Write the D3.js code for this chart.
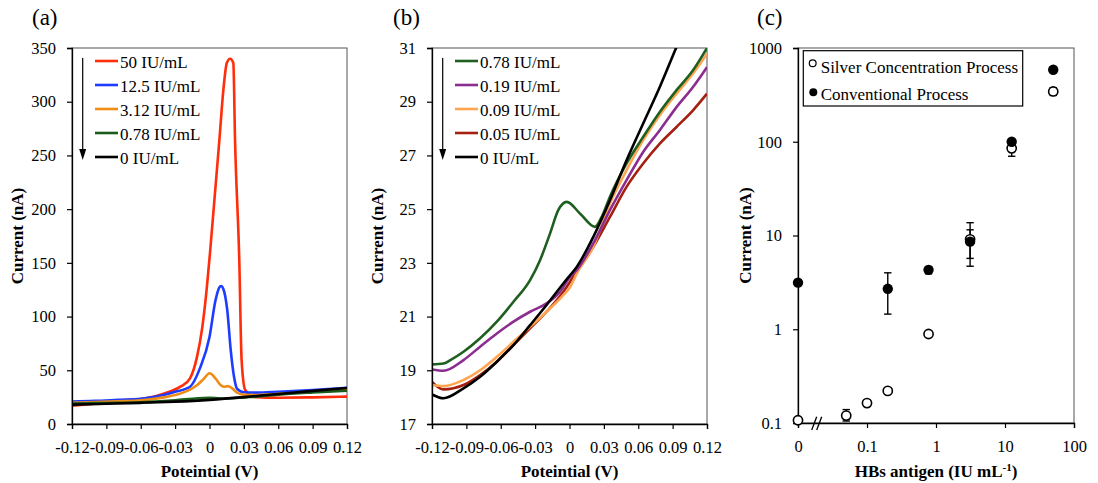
<!DOCTYPE html>
<html><head><meta charset="utf-8">
<script src="https://cdn.jsdelivr.net/npm/d3@7"></script>
<style>
body{margin:0;background:#fff;}
svg{display:block;}
svg text{font-family:"Liberation Serif","Times New Roman",serif;}
</style></head>
<body><svg id="c" width="1098" height="483" font-family="Liberation Serif, Times New Roman, serif"></svg>
<script>
// ---------- DATA ----------
// Panel (a): potential (V), current (nA)
const xTicksA = [-0.12,-0.09,-0.06,-0.03,0,0.03,0.06,0.09,0.12];
const xTickLabels = ["-0.12","-0.09","-0.06","-0.03","0","0.03","0.06","0.09","0.12"];
const yTicksA = [0,50,100,150,200,250,300,350];
const a50 = [[-0.12,17],[-0.10,19],[-0.08,21],[-0.06,23.2],[-0.045,26.5],[-0.035,30],[-0.025,35],[-0.017,42.5],[-0.011,62],[-0.0063,90],[-0.0025,125],[0.0005,160],[0.004,205],[0.0086,264],[0.0121,311],[0.0151,336],[0.018,340],[0.0208,336],[0.0223,264],[0.026,152],[0.028,60],[0.031,32],[0.036,26.5],[0.041,25],[0.06,24.5],[0.09,24.8],[0.12,25.5]];
const a125 = [[-0.12,21],[-0.10,21.5],[-0.08,22.5],[-0.06,23.5],[-0.04,27],[-0.03,30],[-0.017,34.7],[-0.0083,52],[0,81],[0.0052,115],[0.0085,127],[0.0101,128.4],[0.012,126],[0.0155,106],[0.0185,69],[0.0214,44],[0.024,33],[0.03,29.5],[0.04,29.2],[0.06,30],[0.09,31.7],[0.12,33.8]];
const a312 = [[-0.12,19.8],[-0.10,20.4],[-0.08,21.1],[-0.06,22],[-0.04,24.8],[-0.025,28.5],[-0.017,32],[-0.011,36],[-0.005,42],[0,47.2],[0.0052,42.5],[0.0096,36.3],[0.0125,34.7],[0.016,35.3],[0.0198,33.2],[0.0242,29.1],[0.03,27.2],[0.04,27],[0.06,28],[0.09,30],[0.12,31.8]];
const a078 = [[-0.12,19],[-0.09,19.6],[-0.06,20.3],[-0.03,22],[-0.01,24],[0,24.3],[0.01,23.8],[0.02,24],[0.04,25.5],[0.06,27.3],[0.09,29.3],[0.12,31]];
const a0 = [[-0.12,18],[-0.09,18.8],[-0.06,19.7],[-0.03,20.8],[0,22.5],[0.03,25],[0.06,28],[0.09,30.8],[0.12,33.5]];
const labelsA = ["50 IU/mL","12.5 IU/mL","3.12 IU/mL","0.78 IU/mL","0 IU/mL"];

// Panel (b)
const yTicksB = [17,19,21,23,25,27,29,31];
const b078 = [[-0.12,19.22],[-0.11,19.25],[-0.104,19.38],[-0.0925,19.69],[-0.078,20.19],[-0.0634,20.81],[-0.0489,21.55],[-0.0344,22.36],[-0.0257,23.1],[-0.017,24.09],[-0.0098,24.96],[-0.0024,25.27],[0.0091,24.84],[0.0222,24.34],[0.028,24.7],[0.0353,25.46],[0.0498,26.7],[0.0643,27.69],[0.0788,28.62],[0.0934,29.43],[0.1078,30.17],[0.12,31.0]];
const b019 = [[-0.12,19.03],[-0.11,18.98],[-0.0925,19.38],[-0.078,19.88],[-0.0634,20.37],[-0.0489,20.81],[-0.0344,21.18],[-0.02,21.49],[-0.0083,21.92],[0.0005,22.48],[0.0063,22.73],[0.0222,23.84],[0.0353,24.96],[0.0498,26.08],[0.0643,27.13],[0.0788,27.94],[0.0934,28.8],[0.1078,29.55],[0.12,30.29]];
const b009 = [[-0.12,18.45],[-0.11,18.41],[-0.0925,18.64],[-0.078,19.0],[-0.0634,19.5],[-0.0489,20.06],[-0.0344,20.62],[-0.02,21.18],[-0.0054,21.8],[0.0005,22.1],[0.0063,22.6],[0.0208,23.6],[0.0353,25.21],[0.0498,26.45],[0.0643,27.57],[0.0788,28.5],[0.0934,29.3],[0.1078,30.05],[0.12,30.79]];
const b005 = [[-0.12,18.57],[-0.11,18.29],[-0.0925,18.45],[-0.078,18.82],[-0.0634,19.32],[-0.0489,19.94],[-0.0344,20.56],[-0.02,21.18],[-0.0054,21.92],[0.0005,22.3],[0.0208,23.6],[0.0353,24.71],[0.0498,25.83],[0.0643,26.7],[0.0788,27.44],[0.0934,28.06],[0.1078,28.68],[0.12,29.3]];
const b0 = [[-0.12,18.1],[-0.11,17.96],[-0.0925,18.33],[-0.078,18.76],[-0.0634,19.32],[-0.0489,19.94],[-0.0344,20.68],[-0.02,21.43],[-0.0054,22.23],[0.0005,22.54],[0.0063,22.85],[0.0208,23.97],[0.0353,25.33],[0.0498,26.82],[0.0643,28.19],[0.0788,29.55],[0.0934,31.04],[0.1,31.7]];
const labelsB = ["0.78 IU/mL","0.19 IU/mL","0.09 IU/mL","0.05 IU/mL","0 IU/mL"];

// Panel (c): HBs antigen (IU/mL), current (nA)
const xTicksC = [0.01,0.1,1,10,100];
const xTickLabelsC = ["0","0.1","1","10","100"];
const yTicksC = [0.1,1,10,100,1000];
const yTickLabelsC = ["0.1","1","10","100","1000"];
const silverConc = [0,0.05,0.1,0.2,0.78,3.12,12.5,50];
const silverCur  = [0.107,0.12,0.163,0.22,0.89,9.1,85,344];
const silverLo   = [null,0.105,null,null,null,5.7,70,312];
const silverHi   = [null,0.139,null,null,null,11.5,100,377];
const convConc = [0,0.2,0.78,3.12,12.5,50];
const convCur  = [3.14,2.7,4.3,8.6,100,586];
const convLo   = [null,1.45,3.9,4.7,null,null];
const convHi   = [null,4.0,4.66,13.7,null,null];
const labelsC = ["Silver Concentration Process","Conventional Process"];

// ---------- DRAW ----------
const svg = d3.select("#c");
const FONT = "Liberation Serif, Times New Roman, serif";
const FONT_TICK = 16.5;

function frame(g, L, R, T, B){
  g.append("rect").attr("x",L).attr("y",T).attr("width",R-L).attr("height",B-T)
   .attr("fill","none").attr("stroke","#555").attr("stroke-width",1);
}
function styleAxis(ax){
  ax.attr("font-family",FONT);
  ax.selectAll("path.domain").attr("stroke","#000").attr("stroke-width",1.3);
  ax.selectAll(".tick line").attr("stroke","#000").attr("stroke-width",1.2);
  ax.selectAll("text").attr("font-size",FONT_TICK).attr("fill","#000").attr("font-family",FONT);
}

function linePanel(o){
  const {L,R,T,B,x,y,yTicks,series,colors,legendColors,labels,panelLabel,labelX,titleX,id} = o;
  const g = svg.append("g").attr("font-family",FONT);
  const clipId = "clip"+id;
  svg.append("defs").append("clipPath").attr("id",clipId)
     .append("rect").attr("x",L).attr("y",T).attr("width",R-L).attr("height",B-T);
  frame(g,L,R,T,B);
  const line = d3.line().x(d=>x(d[0])).y(d=>y(d[1])).curve(d3.curveMonotoneX);
  const lg = g.append("g").attr("clip-path",`url(#${clipId})`);
  series.forEach((s,i)=>{
    lg.append("path").datum(s).attr("d",line).attr("fill","none")
      .attr("stroke",colors[i]).attr("stroke-width",2.6).attr("stroke-linejoin","round");
  });
  const ax = g.append("g").attr("transform",`translate(0,${B})`)
    .call(d3.axisBottom(x).tickValues(xTicksA).tickFormat((d,i)=>xTickLabels[i]).tickSizeOuter(0).tickSize(5));
  styleAxis(ax);
  ax.selectAll("text").attr("y",28.5).attr("dy",null);
  const ay = g.append("g").attr("transform",`translate(${L},0)`)
    .call(d3.axisLeft(y).tickValues(yTicks).tickSizeOuter(0).tickSize(5).tickPadding(11));
  styleAxis(ay);
  // legend
  const rows = [61,85,109,133,157];
  labels.forEach((t,i)=>{
    g.append("line").attr("x1",L+23).attr("x2",L+46).attr("y1",rows[i]).attr("y2",rows[i])
     .attr("stroke",legendColors[i]).attr("stroke-width",2.6);
    g.append("text").attr("x",L+48).attr("y",rows[i]+7).attr("font-size",17).text(t);
  });
  const axX = L+10.7;
  g.append("line").attr("x1",axX).attr("x2",axX).attr("y1",58).attr("y2",151).attr("stroke","#000").attr("stroke-width",1.2);
  g.append("path").attr("d",`M${axX-3.5},149 L${axX+3.5},149 L${axX},160 Z`).attr("fill","#000");
  // titles
  g.append("text").attr("x",(L+R)/2).attr("y",477).attr("text-anchor","middle")
   .attr("font-size",17).attr("font-weight","bold").text("Poteintial (V)");
  g.append("text").attr("transform",`translate(${titleX},${(T+B)/2}) rotate(-90)`).attr("text-anchor","middle")
   .attr("font-size",17).attr("font-weight","bold").text("Current (nA)");
  g.append("text").attr("x",labelX).attr("y",25).attr("font-size",23).text(panelLabel);
}

// Panel a
const xA = d3.scaleLinear().domain([-0.12,0.12]).range([72,347]);
const yA = d3.scaleLinear().domain([0,350]).range([424,48]);
const colA = ["#ff2d0a","#1e3cff","#ee8c14","#1b5c1b","#000"];
linePanel({L:72,R:347,T:48,B:424,x:xA,y:yA,yTicks:yTicksA,
  series:[a50,a125,a312,a078,a0], colors:colA, legendColors:colA,
  labels:labelsA,panelLabel:"(a)",labelX:32,titleX:23,id:"a"});

// Panel b
const xB = d3.scaleLinear().domain([-0.12,0.12]).range([432,707]);
const yB = d3.scaleLinear().domain([17,31]).range([424,48]);
const colB = {g:"#1f5f1f",p:"#8c2d90",o:"#ffa550",r:"#a52011",k:"#000"};
linePanel({L:432,R:707,T:48,B:424,x:xB,y:yB,yTicks:yTicksB,
  series:[b005,b009,b019,b078,b0],
  colors:[colB.r,colB.o,colB.p,colB.g,colB.k],
  legendColors:[colB.g,colB.p,colB.o,colB.r,colB.k],
  labels:labelsB,panelLabel:"(b)",labelX:393,titleX:383,id:"b"});

// Panel c
(function(){
  const L=798,R=1074,T=48,B=423;
  const g = svg.append("g").attr("font-family",FONT);
  const x = d3.scaleLog().domain([0.01,100]).range([L,R]);
  const y = d3.scaleLog().domain([0.1,1000]).range([B,T]);
  const xp = c => x(c===0 ? 0.01 : c);
  frame(g,L,R,T,B);
  const ax = g.append("g").attr("transform",`translate(0,${B})`)
    .call(d3.axisBottom(x).tickValues(xTicksC).tickFormat((d,i)=>xTickLabelsC[i]).tickSizeOuter(0).tickSize(5));
  styleAxis(ax);
  ax.selectAll("text").attr("y",28.5).attr("dy",null);
  const ay = g.append("g").attr("transform",`translate(${L},0)`)
    .call(d3.axisLeft(y).tickValues(yTicksC).tickFormat((d,i)=>yTickLabelsC[i]).tickSizeOuter(0).tickSize(5).tickPadding(11));
  styleAxis(ay);
  // axis break
  [0,5].forEach(dx=>{
    g.append("line").attr("x1",811.7+dx).attr("y1",430).attr("x2",816.7+dx).attr("y2",416.7)
     .attr("stroke","#000").attr("stroke-width",1.3);
  });
  function errBars(conc,lo,hi){
    conc.forEach((c,i)=>{
      if(lo[i]==null) return;
      const cx = xp(c);
      g.append("line").attr("x1",cx).attr("x2",cx).attr("y1",y(lo[i])).attr("y2",y(hi[i])).attr("stroke","#000").attr("stroke-width",1.4);
      [lo[i],hi[i]].forEach(v=>g.append("line").attr("x1",cx-3.7).attr("x2",cx+3.7).attr("y1",y(v)).attr("y2",y(v)).attr("stroke","#000").attr("stroke-width",1.4));
    });
  }
  errBars(silverConc,silverLo,silverHi);
  errBars(convConc,convLo,convHi);
  silverConc.forEach((c,i)=>{
    g.append("circle").attr("cx",xp(c)).attr("cy",y(silverCur[i])).attr("r",4.6)
     .attr("fill","#fff").attr("stroke","#000").attr("stroke-width",1.6);
  });
  convConc.forEach((c,i)=>{
    g.append("circle").attr("cx",xp(c)).attr("cy",y(convCur[i])).attr("r",5.2).attr("fill","#000");
  });
  // legend
  g.append("rect").attr("x",803.3).attr("y",50.7).attr("width",219.4).attr("height",55.3)
   .attr("fill","#fff").attr("stroke","#000").attr("stroke-width",1.2);
  g.append("circle").attr("cx",812.7).attr("cy",63.3).attr("r",3.4).attr("fill","#fff").attr("stroke","#000").attr("stroke-width",1.2);
  g.append("circle").attr("cx",813.3).attr("cy",92.3).attr("r",4).attr("fill","#000");
  g.append("text").attr("x",820.7).attr("y",72.5).attr("font-size",17).text(labelsC[0]);
  g.append("text").attr("x",820.7).attr("y",100).attr("font-size",17).text(labelsC[1]);
  // titles
  const t = g.append("text").attr("x",936).attr("y",476.5).attr("text-anchor","middle")
   .attr("font-size",17).attr("font-weight","bold");
  t.append("tspan").text("HBs antigen (IU mL");
  t.append("tspan").attr("font-size",11).attr("dy",-6).text("-1");
  t.append("tspan").attr("dy",6).text(")");
  g.append("text").attr("transform",`translate(751,${(T+B)/2}) rotate(-90)`).attr("text-anchor","middle")
   .attr("font-size",17).attr("font-weight","bold").text("Current (nA)");
  g.append("text").attr("x",757).attr("y",25).attr("font-size",23).text("(c)");
})();
</script></body></html>
